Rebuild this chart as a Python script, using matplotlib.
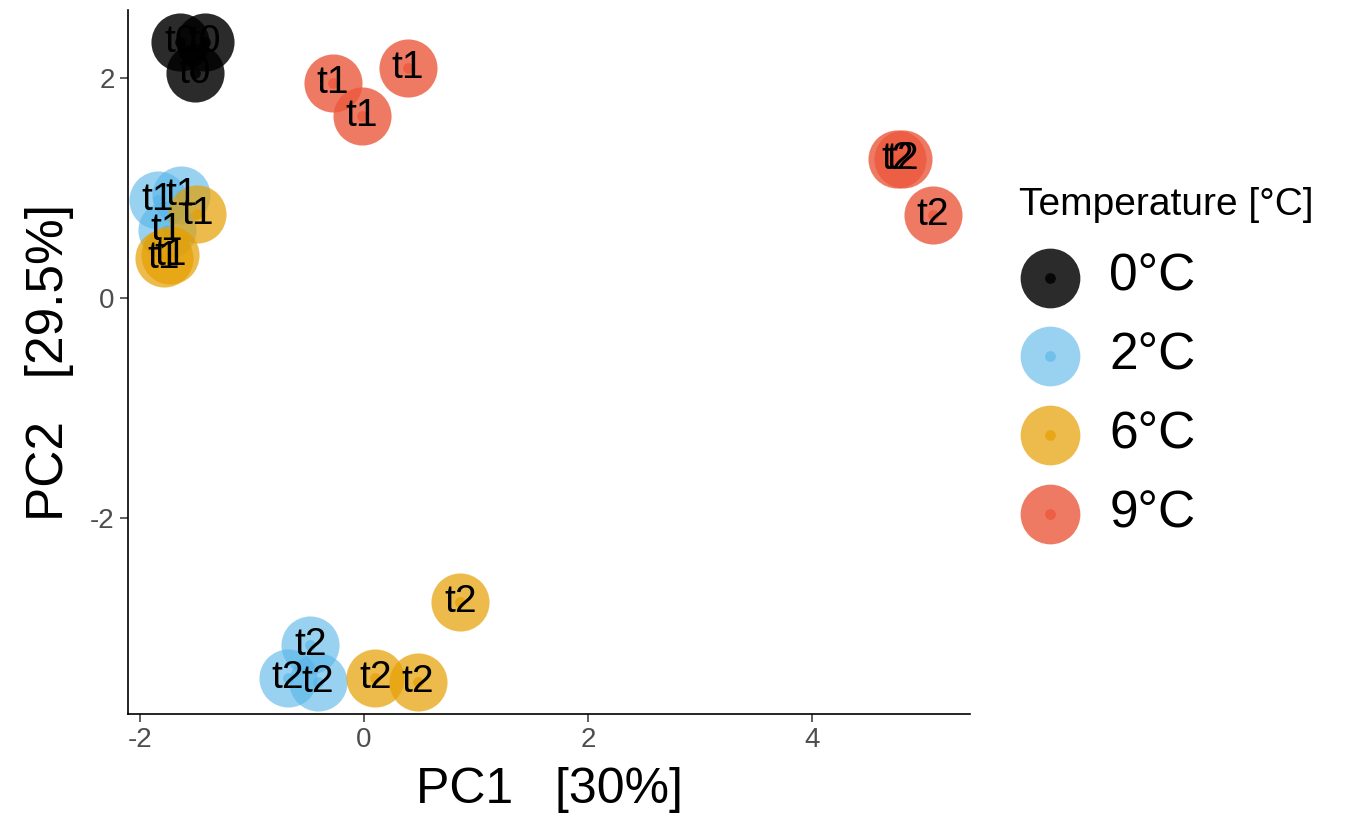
import matplotlib.pyplot as plt
import numpy as np

plt.rcParams['font.family'] = ['Liberation Sans', 'DejaVu Sans']
plt.rcParams['axes.unicode_minus'] = False

# PCA scores
pc1 = [-1.64, -1.42, -1.51,
       -1.84, -1.63, -1.76, -0.48, -0.68, -0.41,
       -1.49, -1.79, -1.73, 0.86, 0.10, 0.48,
       -0.28, -0.02, 0.39, 4.76, 4.81, 5.08]
pc2 = [2.33, 2.33, 2.05,
       0.89, 0.94, 0.62, -3.15, -3.45, -3.49,
       0.77, 0.37, 0.39, -2.76, -3.45, -3.49,
       1.96, 1.66, 2.09, 1.27, 1.27, 0.76]
temp = ['0°C'] * 3 + ['2°C'] * 6 + ['6°C'] * 6 + ['9°C'] * 6
tpt = ['t0', 't0', 't0',
       't1', 't1', 't1', 't2', 't2', 't2',
       't1', 't1', 't1', 't2', 't2', 't2',
       't1', 't1', 't1', 't2', 't2', 't2']

groups = ['0°C', '2°C', '6°C', '9°C']
colores = {'0°C': '#000000', '2°C': '#56B4E9', '6°C': '#E69F00', '9°C': '#EC593D'}
alfas = {'0°C': 0.83, '2°C': 0.6, '6°C': 0.7, '9°C': 0.8}

fig = plt.figure(figsize=(13.52, 8.21), dpi=100)
ax = fig.add_axes([0.0947, 0.1303, 0.6228, 0.8575])

x = np.array(pc1)
y = np.array(pc2)
t = np.array(temp)
handles = []
for g in groups:
    m = t == g
    grande = ax.scatter(x[m], y[m], s=1750, color=colores[g], alpha=alfas[g], linewidths=0)
    punto = ax.scatter(x[m], y[m], s=60, color=colores[g], alpha=alfas[g], linewidths=0)
    handles.append((grande, punto))

for i in range(len(pc1)):
    ax.text(pc1[i], pc2[i], tpt[i], fontsize=28, ha='center', va='center', color='black')

ax.set_xlim(-2.107, 5.41)
ax.set_ylim(-3.78, 2.62)
ax.set_xticks([-2, 0, 2, 4])
ax.set_yticks([-2, 0, 2])
ax.spines['top'].set_visible(False)
ax.spines['right'].set_visible(False)
ax.spines['left'].set_linewidth(1.2)
ax.spines['bottom'].set_linewidth(1.2)
ax.tick_params(labelsize=20, labelcolor='#4d4d4d', length=5.5, width=1.1, color='#333333', pad=4)
ax.set_xlabel('PC1   [30%]', fontsize=36, labelpad=10)
ax.set_ylabel('PC2   [29.5%]', fontsize=37, labelpad=12)

# legend (ggplot style, no frame)
leg = fig.legend(handles, groups, title='Temperature [°C]', loc='upper left',
                 bbox_to_anchor=(0.754, 0.772), frameon=False, fontsize=37, title_fontsize=28,
                 handlelength=1.2, handletextpad=0.55, labelspacing=0.58, alignment='left',
                 borderpad=0, borderaxespad=0)
for par in leg.legend_handles:
    for h in par if isinstance(par, tuple) else [par]:
        if h.get_sizes()[0] > 100:
            h.set_sizes([1850])

fig.savefig('out.png', dpi=100)
